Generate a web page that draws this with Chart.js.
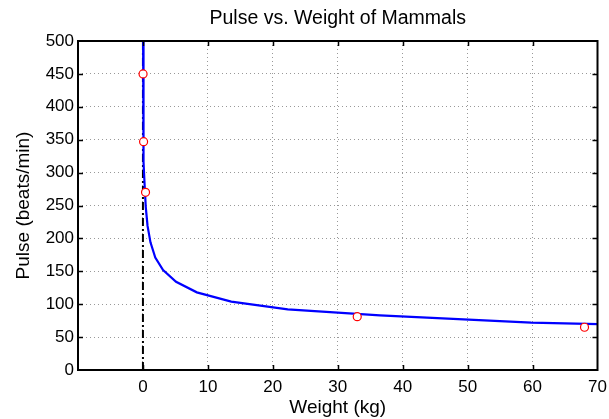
<!DOCTYPE html>
<html><head><meta charset="utf-8">
<script src="https://cdn.jsdelivr.net/npm/chart.js@4.4.0/dist/chart.umd.min.js"></script>
<style>html,body{margin:0;padding:0;background:#fff;overflow:hidden}#wrap{width:609px;height:419px;position:relative}</style>
</head><body><div id="wrap"><canvas id="c"></canvas></div>
<script>
// Measured mammal data (weight kg, pulse beats/min)
const weights = [0.02, 0.1, 0.4, 33, 68];
const pulses = [450, 347, 270, 81, 65];
// Fitted curve, values
const fitWeights = [0.0227, 0.037, 0.060, 0.099, 0.162, 0.265, 0.433, 0.71, 1.16, 1.9, 3.1, 5.1, 8.3, 13.6, 22.3, 36.5, 59.8, 97.9];
const fitPulses  = [515, 456, 404, 357, 316, 280, 248, 219, 194, 171, 152, 134, 118, 104, 92, 83, 72, 64];
// Vertical reference line at zero weight
const refLineX = [0, 0];
const refLineY = [0, 500];
// Ticks
const xTicks = [-10, 0, 10, 20, 30, 40, 50, 60, 70];
const yTicks = [0, 50, 100, 150, 200, 250, 300, 350, 400, 450, 500];

const FONT = '"Liberation Sans", Arial, Helvetica, sans-serif';
const zip = (xs, ys) => xs.map((x, i) => ({x: x, y: ys[i]}));

const framePlugin = {
  id: 'frame',
  afterDraw(chart) {
    const {ctx, chartArea: a, scales} = chart;
    ctx.save();
    ctx.strokeStyle = '#000';
    ctx.lineWidth = 1.5;
    const tl = 5;
    ctx.beginPath();
    scales.x.ticks.forEach(t => {
      if (t.value <= scales.x.min || t.value >= scales.x.max) return;
      const px = Math.round(scales.x.getPixelForValue(t.value)) + 0.5;
      ctx.moveTo(px, a.bottom); ctx.lineTo(px, a.bottom - tl);
      ctx.moveTo(px, a.top); ctx.lineTo(px, a.top + tl);
    });
    scales.y.ticks.forEach(t => {
      if (t.value <= scales.y.min || t.value >= scales.y.max) return;
      const py = Math.round(scales.y.getPixelForValue(t.value)) + 0.5;
      ctx.moveTo(a.left, py); ctx.lineTo(a.left + tl, py);
      ctx.moveTo(a.right, py); ctx.lineTo(a.right - tl, py);
    });
    ctx.stroke();
    ctx.lineWidth = 2;
    ctx.strokeRect(a.left, a.top, a.right - a.left, a.bottom - a.top);
    ctx.restore();
  }
};

new Chart(document.getElementById('c'), {
  type: 'scatter',
  data: {
    datasets: [
      {
        label: 'Measured',
        data: zip(weights, pulses),
        showLine: false,
        pointStyle: 'circle',
        pointRadius: 4,
        pointBorderWidth: 1.2,
        pointBorderColor: '#ff0000',
        pointBackgroundColor: '#ffffff',
        order: 0
      },
      {
        label: 'Fit',
        data: zip(fitWeights, fitPulses),
        showLine: true,
        borderColor: '#0000ff',
        borderWidth: 2.2,
        pointRadius: 0,
        tension: 0,
        fill: false,
        order: 1
      },
      {
        label: 'Zero',
        data: zip(refLineX, refLineY),
        showLine: true,
        borderColor: '#000000',
        borderWidth: 2,
        borderDash: [8, 3, 2, 3],
        pointRadius: 0,
        fill: false,
        order: 2
      }
    ]
  },
  options: {
    responsive: true,
    maintainAspectRatio: false,
    animation: false,
    events: [],
    layout: {padding: {left: 0, right: 11.5, top: 0, bottom: 0}},
    plugins: {
      legend: {display: false},
      tooltip: {enabled: false},
      title: {
        display: true,
        text: 'Pulse vs. Weight of Mammals',
        fullSize: false,
        color: '#000',
        font: {family: FONT, size: 19.5, weight: 'normal', lineHeight: 1.2},
        padding: {top: 7.3, bottom: 10.3}
      }
    },
    scales: {
      x: {
        type: 'linear',
        min: -10,
        max: 70,
        afterBuildTicks: s => { s.ticks = xTicks.map(v => ({value: v})); },
        afterFit: s => { s.height = 49; s.paddingLeft = 0; s.paddingRight = 0; },
        ticks: {
          color: '#000',
          font: {family: FONT, size: 17},
          padding: 7,
          maxRotation: 0,
          autoSkip: false,
          callback: v => (v < 0 ? '' : String(v))
        },
        grid: {color: '#999', lineWidth: 1, drawTicks: false},
        border: {display: false, dash: [1, 3]},
        title: {
          display: true,
          text: 'Weight (kg)',
          color: '#000',
          font: {family: FONT, size: 19, lineHeight: 1.2},
          padding: {top: 0, bottom: 0}
        }
      },
      y: {
        type: 'linear',
        min: 0,
        max: 500,
        afterBuildTicks: s => { s.ticks = yTicks.map(v => ({value: v})); },
        afterFit: s => { s.width = 78; s.paddingTop = 0; s.paddingBottom = 0; },
        ticks: {
          color: '#000',
          font: {family: FONT, size: 17},
          padding: 4,
          autoSkip: false,
          callback: v => String(v)
        },
        grid: {color: '#999', lineWidth: 1, drawTicks: false},
        border: {display: false, dash: [1, 3]},
        title: {
          display: true,
          text: 'Pulse (beats/min)',
          color: '#000',
          font: {family: FONT, size: 19, lineHeight: 1.2},
          padding: {top: 12.6, bottom: 0}
        }
      }
    }
  },
  plugins: [framePlugin]
});
</script>
</body></html>
